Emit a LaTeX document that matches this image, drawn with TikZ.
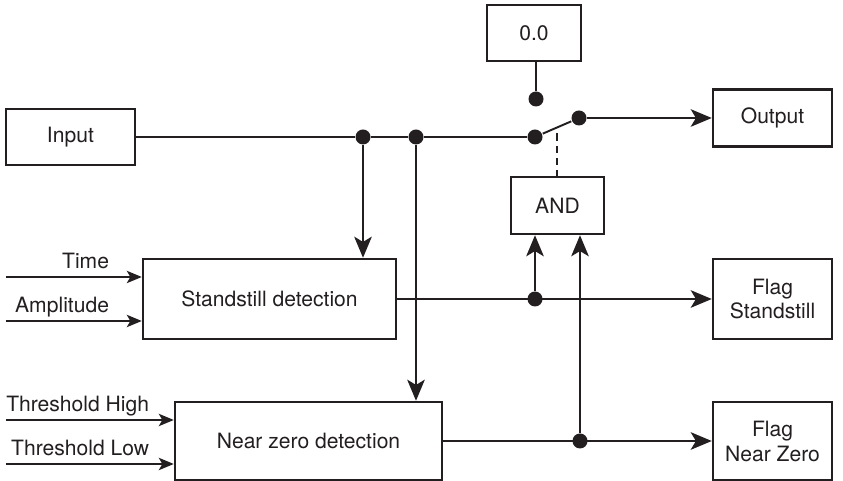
\documentclass[tikz,border=0pt]{standalone}
\usepackage{fontspec}
\setmainfont{TeX Gyre Heros}
\usetikzlibrary{arrows.meta, calc, positioning}
\definecolor{ink}{HTML}{231F20}
\tikzset{blk/.style={draw=ink,line width=1.4pt,inner sep=2pt,align=center,text=ink,font=\fontsize{12}{14.2}\selectfont}}
\tikzset{dotn/.style={circle,fill=ink,inner sep=0pt,minimum size=.3cm}}
\tikzset{lbl/.style={anchor=base east,inner sep=0pt,text=ink,font=\fontsize{12}{14.2}\selectfont}}
\tikzset{arr/.style={-{Stealth[length=12pt,width=10pt,inset=3pt]}}}
\tikzset{arrs/.style={-{Stealth[length=8.5pt,width=7pt,inset=2pt]}}}

\begin{document}
\begin{tikzpicture}[line width=1.1pt, color=ink]
\useasboundingbox (0,0) rectangle (16.86,9.62);

\node [blk, minimum width=2.58cm, minimum height=1.12cm] at (1.41,6.88) (in) {Input};
\node [blk, minimum width=1.88cm, minimum height=1.12cm] at (10.68,8.96) (zero) {0.0};
\node [blk, minimum width=2.38cm, minimum height=1.14cm] at (15.45,7.26) (out) {Output};
\node [blk, minimum width=1.86cm, minimum height=1.14cm] at (11.15,5.51) (and) {AND};
\node [blk, minimum width=5.06cm, minimum height=1.6cm] at (5.39,3.64) (ss) {Standstill detection};
\node [blk, minimum width=2.38cm, minimum height=1.6cm] at (15.45,3.64) (fs) {Flag\\Standstill};
\node [blk, minimum width=5.34cm, minimum height=1.56cm] at (6.17,0.8) (nz) {Near zero detection};
\node [blk, minimum width=2.38cm, minimum height=1.56cm] at (15.45,0.8) (fn) {Flag\\Near Zero};

% junctions and switch contacts
\node [dotn] at (7.26,6.88) (d1) {};
\node [dotn] at (8.32,6.88) (d2) {};
\node [dotn] at (10.7,6.88) (swl) {};
\node [dotn] at (11.58,7.26) (swr) {};
\node [dotn] at (10.72,7.64) (ct) {};
\node [dotn] at (10.7,3.64) (ds) {};
\node [dotn] at (11.6,0.8) (dn) {};

\draw (in) -- (d1) -- (d2) -- (swl);
\draw (swl) -- (swr);
\draw [arr] (swr) -- (out);
\draw (ct) -- (ct |- zero.south);
\draw [arr] (d1) -- (d1 |- ss.north);
\draw [arr] (d2) -- (d2 |- nz.north);
\draw [arr] (ss) -- (fs);
\draw [arr] (ds) -- (ds |- and.south);
\draw [arr] (nz) -- (fn);
\draw [arr] (dn) -- (dn |- and.south);

\coordinate (swm) at ($(swl)!.5!(swr)$);
\draw [dash pattern=on 4pt off 3pt] ($(swm)+(0,-.12)$) -- (swm |- and.north);

% detector inputs
\coordinate (tt) at (0.12,4.08);
\coordinate (ta) at (0.12,3.2);
\coordinate (th) at (0.12,1.22);
\coordinate (tl) at (0.12,0.34);
\draw [arrs] (tt) -- (tt -| ss.west);
\draw [arrs] (ta) -- (ta -| ss.west);
\draw [arrs] (th) -- (th -| nz.west);
\draw [arrs] (tl) -- (tl -| nz.west);
\node [lbl] at (2.2,4.24) (ttl) {Time};
\node [lbl] at (2.2,3.36) (tal) {Amplitude};
\node [lbl] at (3.0,1.38) (thl) {Threshold High};
\node [lbl] at (3.0,0.5) (tll) {Threshold Low};
\end{tikzpicture}
\end{document}
